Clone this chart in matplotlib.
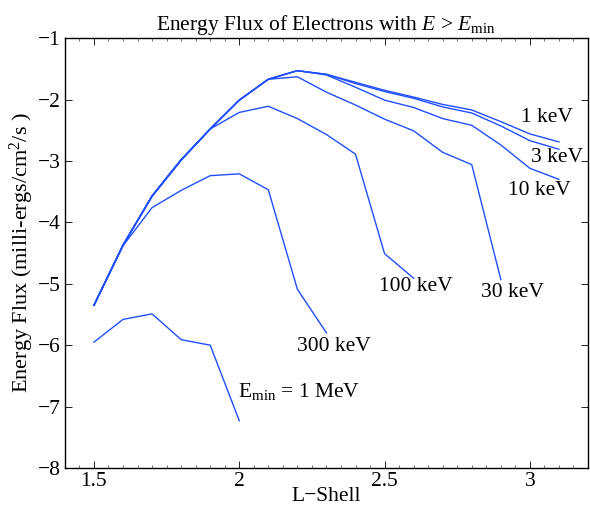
import matplotlib
matplotlib.use("Agg")
import matplotlib.pyplot as plt
from matplotlib.ticker import MultipleLocator

plt.rcParams['font.family'] = ['Liberation Serif', 'DejaVu Serif']
plt.rcParams['mathtext.fontset'] = 'custom'
plt.rcParams['mathtext.rm'] = 'Liberation Serif'
plt.rcParams['mathtext.it'] = 'Liberation Serif:italic'

L = [1.5, 1.6, 1.7, 1.8, 1.9, 2.0, 2.1, 2.2, 2.3, 2.4, 2.5, 2.6, 2.7, 2.8, 2.9, 3.0, 3.1]

flux_1keV = [-5.35, -4.37, -3.57, -2.98, -2.48, -2.01, -1.67, -1.53, -1.59, -1.72, -1.85,
             -1.96, -2.08, -2.17, -2.36, -2.56, -2.69]
flux_3keV = [-5.35, -4.37, -3.57, -2.98, -2.48, -2.01, -1.67, -1.53, -1.59, -1.74, -1.87,
             -1.98, -2.12, -2.22, -2.43, -2.67, -2.81]
flux_10keV = [-5.35, -4.37, -3.57, -2.98, -2.48, -2.01, -1.67, -1.53, -1.60, -1.80, -2.01,
              -2.13, -2.31, -2.42, -2.74, -3.12, -3.30]
flux_30keV = [-5.35, -4.37, -3.57, -2.98, -2.48, -2.01, -1.67, -1.63, -1.88, -2.09, -2.32,
              -2.51, -2.86, -3.06, -4.93]
flux_100keV = [-5.35, -4.37, -3.58, -2.99, -2.48, -2.21, -2.11, -2.31, -2.57, -2.89, -4.51, -4.91]
flux_300keV = [-5.35, -4.38, -3.76, -3.48, -3.24, -3.21, -3.47, -5.09, -5.80]
flux_1MeV = [-5.95, -5.58, -5.49, -5.91, -6.00, -7.23]

series = [flux_1keV, flux_3keV, flux_10keV, flux_30keV, flux_100keV, flux_300keV, flux_1MeV]

labels = ["1 keV", "3 keV", "10 keV", "30 keV", "100 keV", "300 keV", "E$_{\\rm min}$ = 1 MeV"]
label_pos = [(2.969, -2.29), (3.004, -2.94), (2.925, -3.48), (2.832, -5.14),
             (2.482, -5.04), (2.200, -6.02), (1.994, -6.75)]

color = '#1f4fff'
fs = 15.5

fig = plt.figure(figsize=(5.9, 5.08), dpi=100)
ax = fig.add_axes([0.110, 0.0787, 0.8866, 0.8463])

for ys in series:
    ax.plot(L[:len(ys)], ys, color=color, lw=1.0)

for lab, (x, y) in zip(labels, label_pos):
    ax.text(x, y, lab, fontsize=fs, color='black', ha='left', va='center')

ax.set_xlim(1.4, 3.2)
ax.set_ylim(-8, -1)
ax.xaxis.set_minor_locator(MultipleLocator(0.05))
ax.set_xticks([1.5, 2.0, 2.5, 3.0])
ax.set_xticklabels(['1.5', '2', '2.5', '3'])
ax.set_yticks([-8, -7, -6, -5, -4, -3, -2, -1])
ax.set_yticklabels(['\u22128', '\u22127', '\u22126', '\u22125', '\u22124', '\u22123', '\u22122', '\u22121'])
ax.tick_params(direction='in', which='major', length=5, width=0.6, top=True, right=True,
               labelsize=fs, pad=3)
ax.tick_params(direction='in', which='minor', length=2, width=0.4, top=True, bottom=True)
for s in ax.spines.values():
    s.set_linewidth(1.0)

ax.set_title("Energy Flux of Electrons with $\\mathit{E}$ > $\\mathit{E}_{\\rm min}$", fontsize=fs, pad=6)
ax.set_xlabel("L\u2212Shell", fontsize=fs, labelpad=-3)
ax.set_ylabel("Energy Flux (milli-ergs/cm$^2$/s )", fontsize=16, labelpad=1)

fig.savefig("out.png", dpi=100)
